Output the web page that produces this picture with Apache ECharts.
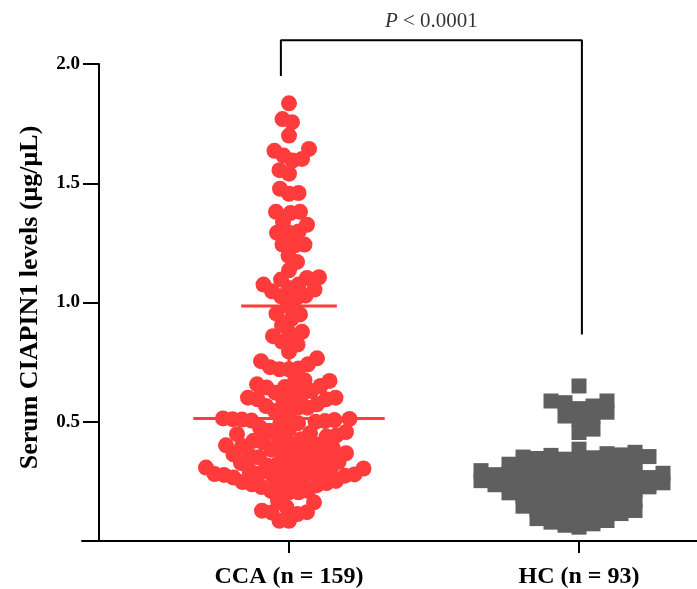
<!DOCTYPE html>
<html>
<head>
<meta charset="utf-8">
<script src="https://cdn.jsdelivr.net/npm/echarts@6/dist/echarts.min.js"></script>
<style>
  html, body { margin: 0; padding: 0; background: #ffffff; }
  #chart { width: 697px; height: 589px; }
</style>
</head>
<body>
<div id="chart"></div>
<script>
// ---- Data -------------------------------------------------------------
const groupNames = ['CCA (n = 159)', 'HC (n = 93)'];
const groupPositions = [1, 2];

// Serum CIAPIN1 (µg/µL), cholangiocarcinoma patients
const ccaValues = [
  1.835, 1.769, 1.756, 1.700, 1.644, 1.636, 1.616, 1.602, 1.595, 1.555, 1.540,
  1.477, 1.459, 1.456, 1.380, 1.380, 1.375, 1.338, 1.326, 1.298, 1.292, 1.292,
  1.243, 1.243, 1.240, 1.197, 1.170, 1.135, 1.106, 1.103, 1.096, 1.075, 1.075,
  1.061, 1.054, 1.047, 1.029, 1.026, 1.017, 0.985,
  0.953, 0.950, 0.929, 0.905, 0.877, 0.870, 0.859, 0.836, 0.824, 0.794, 0.766,
  0.754, 0.741, 0.729, 0.723, 0.720, 0.720,
  0.674, 0.671, 0.665, 0.657, 0.650, 0.646, 0.644, 0.629, 0.622, 0.615, 0.608,
  0.601, 0.601, 0.594, 0.594, 0.587, 0.573, 0.566, 0.559, 0.559, 0.545, 0.538,
  0.514, 0.512, 0.511, 0.509, 0.507, 0.505, 0.503, 0.500, 0.497, 0.494,
  0.476, 0.468, 0.462, 0.457, 0.452, 0.448, 0.443, 0.438,
  0.434, 0.427, 0.420, 0.414, 0.409, 0.405, 0.401, 0.398,
  0.393, 0.388, 0.383, 0.378, 0.373, 0.368, 0.363, 0.359, 0.355, 0.351, 0.347,
  0.342, 0.337, 0.332, 0.327, 0.322, 0.317, 0.312, 0.308, 0.304, 0.300,
  0.296, 0.292, 0.289, 0.286, 0.283, 0.281, 0.279, 0.277, 0.274, 0.270, 0.266, 0.262,
  0.257, 0.252, 0.247, 0.243, 0.238, 0.234, 0.231, 0.226,
  0.210, 0.210, 0.204, 0.204, 0.169, 0.162, 0.142, 0.127, 0.121, 0.120, 0.113,
  0.085, 0.085
];

// Serum CIAPIN1 (µg/µL), healthy controls
const hcValues = [
  0.650, 0.587, 0.587, 0.580, 0.566, 0.555, 0.540, 0.524, 0.524, 0.510, 0.469, 0.455,
  0.385, 0.372,
  0.366, 0.361, 0.359, 0.354, 0.352, 0.349, 0.346, 0.343,
  0.336, 0.330, 0.328, 0.322, 0.319, 0.317, 0.311, 0.308, 0.303,
  0.301, 0.296, 0.295, 0.290, 0.288, 0.284, 0.283, 0.278, 0.276, 0.272, 0.271,
  0.266, 0.264, 0.263, 0.260,
  0.258, 0.253, 0.251, 0.249, 0.244, 0.243, 0.238, 0.236, 0.234, 0.229, 0.227,
  0.226, 0.224, 0.220,
  0.216, 0.210, 0.208, 0.202, 0.199, 0.196, 0.190, 0.188, 0.182, 0.179,
  0.175, 0.170, 0.165, 0.160, 0.155, 0.151, 0.146, 0.142, 0.137, 0.133,
  0.128, 0.124, 0.119, 0.115, 0.110, 0.104, 0.099, 0.094,
  0.086, 0.079, 0.072, 0.066, 0.058
];

const yTickValues = [0.5, 1.0, 1.5, 2.0];
const yAxisTitle = 'Serum CIAPIN1 levels (μg/μL)';
const pValueLabel = ['P', ' < 0.0001'];
const bracketX = [0.972, 2.01];
const bracketTop = 2.10;
const bracketLegEnds = [1.95, 0.866];

// ---- Layout -----------------------------------------------------------
const W = 697, H = 589;
const gridBox = { left: 82, right: 0, top: 64, bottom: 47 };
const xMin = 0.2862, xMax = 2.4069;
const yMin = 0, yMax = 2;
const pxPerX = (W - gridBox.left - gridBox.right) / (xMax - xMin);
const pxPerY = (H - gridBox.top - gridBox.bottom) / (yMax - yMin);
const FONT = 'Liberation Serif';
const RED = '#ff3b3b';
const GREY = '#5f5f5f';

// Beeswarm: each value keeps its y and is pushed sideways to the nearest
// free slot. gapX / gapY set the clearance box (ellipse for circles,
// rectangle for squares) that neighbouring marks must respect.
function swarm(values, center, gapX, gapY, square) {
  const order = values.map((v, i) => i).sort((a, b) => values[a] - values[b]);
  const placed = [];
  const out = new Array(values.length);
  order.forEach((idx, n) => {
    const y = values[idx] * pxPerY;
    let dx = 0;
    outer:
    for (let k = 0; k < 4000; k++) {
      const sides = (n % 2 === 0) ? [1, -1] : [-1, 1];
      for (const s of sides) {
        const cand = s * k * 0.5;
        const hit = placed.some(p => {
          const ddx = Math.abs(p[0] - cand) / gapX, ddy = Math.abs(p[1] - y) / gapY;
          return square ? (ddx < 1 && ddy < 1) : (ddx * ddx + ddy * ddy < 1);
        });
        if (!hit) { dx = cand; break outer; }
      }
    }
    placed.push([dx, y]);
    out[idx] = [center + dx / pxPerX, values[idx]];
  });
  return out;
}

// Quartiles, (n+1)p positions with linear interpolation
function quantile(values, p) {
  const s = values.slice().sort((a, b) => a - b);
  const pos = (s.length + 1) * p - 1;
  const lo = Math.max(0, Math.min(s.length - 1, Math.floor(pos)));
  const hi = Math.min(s.length - 1, lo + 1);
  return s[lo] + (s[hi] - s[lo]) * (pos - lo);
}
function stats(values, center) {
  return [center, quantile(values, 0.25), quantile(values, 0.5), quantile(values, 0.75)];
}

const ccaPoints = swarm(ccaValues, groupPositions[0], 9.5, 14, false);
const hcPoints = swarm(hcValues, groupPositions[1], 14, 9, true);

// median with interquartile range
function renderIqr(color) {
  return function (params, api) {
    const c = api.value(0), q1 = api.value(1), med = api.value(2), q3 = api.value(3);
    const wide = 0.33, narrow = 0.165;
    const seg = (x0, y0, x1, y1) => {
      const a = api.coord([x0, y0]), b = api.coord([x1, y1]);
      return { type: 'line', shape: { x1: a[0], y1: a[1], x2: b[0], y2: b[1] },
               style: { stroke: color, lineWidth: 3 } };
    };
    return { type: 'group', children: [
      seg(c, q1, c, q3),
      seg(c - wide, med, c + wide, med),
      seg(c - narrow, q1, c + narrow, q1),
      seg(c - narrow, q3, c + narrow, q3)
    ] };
  };
}

const chart = echarts.init(document.getElementById('chart'), null, { renderer: 'canvas' });
chart.setOption({
  animation: false,
  backgroundColor: '#ffffff',
  grid: gridBox,
  xAxis: {
    type: 'value', min: xMin, max: xMax,
    splitLine: { show: false },
    axisLine: { show: true, lineStyle: { color: '#000', width: 2 } },
    axisTick: { show: true, customValues: groupPositions, length: 12,
                lineStyle: { color: '#000', width: 2 } },
    axisLabel: {
      show: true, customValues: groupPositions, margin: 24,
      formatter: v => groupNames[groupPositions.indexOf(Math.round(v))] || '',
      fontFamily: FONT, fontWeight: 'bold', fontSize: 24, color: '#000'
    }
  },
  yAxis: {
    type: 'value', min: yMin, max: yMax, interval: 0.5, offset: -17,
    splitLine: { show: false },
    axisLine: { show: true, lineStyle: { color: '#000', width: 2 } },
    axisTick: { show: true, length: 16, lineStyle: { color: '#000', width: 2 } },
    axisLabel: {
      margin: 19,
      formatter: v => yTickValues.some(t => Math.abs(t - v) < 1e-9) ? v.toFixed(1) : '',
      fontFamily: FONT, fontWeight: 'bold', fontSize: 19, color: '#000'
    },
    name: yAxisTitle, nameLocation: 'middle', nameGap: 56,
    nameTextStyle: { fontFamily: FONT, fontWeight: 'bold', fontSize: 26, color: '#000',
                     padding: [0, 0, 0, 10] }
  },
  series: [
    {
      type: 'scatter', name: 'CCA', z: 2,
      symbol: 'circle', symbolSize: 16,
      itemStyle: { color: RED, opacity: 1 },
      data: ccaPoints
    },
    {
      type: 'scatter', name: 'HC', z: 2,
      symbol: 'rect', symbolSize: 15,
      itemStyle: { color: GREY, opacity: 1 },
      data: hcPoints
    },
    {
      type: 'custom', name: 'CCA IQR', z: 3,
      renderItem: renderIqr(RED),
      data: [stats(ccaValues, groupPositions[0])]
    },
    {
      type: 'line', name: 'bracket', z: 4, clip: false,
      symbol: 'none', silent: true,
      lineStyle: { color: '#000', width: 2 },
      data: [
        [bracketX[0], bracketLegEnds[0]], [bracketX[0], bracketTop],
        [bracketX[1], bracketTop], [bracketX[1], bracketLegEnds[1]]
      ]
    },
    {
      type: 'scatter', name: 'p', z: 4, clip: false, silent: true,
      symbolSize: 0,
      data: [[(bracketX[0] + bracketX[1]) / 2, bracketTop]],
      label: {
        show: true, position: 'top', distance: 8,
        formatter: '{i|' + pValueLabel[0] + '}{r|' + pValueLabel[1] + '}',
        rich: {
          i: { fontFamily: FONT, fontStyle: 'italic', fontSize: 21, color: '#000' },
          r: { fontFamily: FONT, fontSize: 21, color: '#000' }
        }
      }
    }
  ]
});
</script>
</body>
</html>
